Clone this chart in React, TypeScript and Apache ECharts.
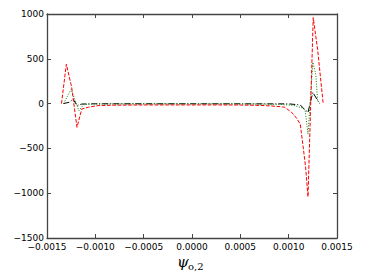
import React, { useEffect, useRef } from "react";
import * as echarts from "echarts";

const redX = [-0.00135, -0.0013, -0.001245, -0.00119, -0.00114, -0.00107, -0.00097, -0.0008, -0.0005, -0.0002, 0, 0.0003, 0.0005, 0.0007, 0.0008, 0.0009, 0.00096, 0.00103, 0.00108, 0.00112, 0.00115, 0.001175, 0.0012, 0.001254, 0.0013, 0.001357];
const redY = [0, 440, 185, -265, -60, -40, -22, -18, -15, -15, -15, -15, -16, -20, -25, -33, -41, -97, -160, -230, -485, -707, -1040, 960, 600, 0];

const greenX = [-0.00133, -0.00125, -0.00117, -0.00112, -0.001, -0.0005, 0, 0.0005, 0.0009, 0.00105, 0.00113, 0.00117, 0.0012, 0.00125, 0.00128, 0.0013, 0.00132];
const greenY = [0, 160, -80, -8, -5, -3, -3, -3, -8, -20, -45, -70, -340, 460, 330, 35, 10];

const blackX = [-0.00133, -0.00127, -0.00123, -0.00119, -0.00114, -0.001, 0, 0.001, 0.00112, 0.00116, 0.0012, 0.00125, 0.0013, 0.00132];
const blackY = [0, 15, 50, -22, -5, -2, -2, -3, -15, -60, -97, 126, 33, 0];

const xTicks = { min: -0.0015, max: 0.0015, interval: 0.0005 };
const yTicks = { min: -1500, max: 1000, interval: 500 };

const pairs = (xs: number[], ys: number[]) => xs.map((x, i) => [x, ys[i]]);

const fmtX = (v: number) => {
  const s = Math.abs(v).toFixed(4);
  return v < -1e-12 ? "\u2212" + s : s;
};
const fmtY = (v: number) => (v < 0 ? "\u2212" + Math.abs(v) : String(v));

export default function App() {
  const ref = useRef<HTMLDivElement>(null);
  useEffect(() => {
    if (!ref.current) return;
    const chart = echarts.init(ref.current, null, { renderer: "svg" });
    const axisLine = { show: true, onZero: false, lineStyle: { color: "#444", width: 1.3 } };
    const tick = { show: true, inside: true, length: 4, lineStyle: { color: "#444", width: 1 } };
    const label = { fontFamily: "DejaVu Sans", fontSize: 9, color: "#000" };
    chart.setOption({
      animation: false,
      backgroundColor: "#fff",
      grid: { left: 47, right: 37, top: 14, bottom: 42, containLabel: false },
      xAxis: [
        {
          type: "value", position: "bottom", ...xTicks,
          axisLine, axisTick: tick, splitLine: { show: false },
          axisLabel: { ...label, margin: 4, formatter: fmtX },
        },
        {
          type: "value", position: "top", ...xTicks,
          axisLine, axisTick: tick, splitLine: { show: false },
          axisLabel: { show: false },
        },
      ],
      yAxis: [
        {
          type: "value", position: "left", ...yTicks,
          axisLine, axisTick: tick, splitLine: { show: false },
          axisLabel: { ...label, margin: 3, formatter: fmtY },
        },
        {
          type: "value", position: "right", ...yTicks,
          axisLine, axisTick: tick, splitLine: { show: false },
          axisLabel: { show: false },
        },
      ],
      series: [
        {
          type: "line", data: pairs(blackX, blackY), showSymbol: false, symbol: "none",
          lineStyle: { color: "#000", width: 1, type: [6, 2, 1, 2] },
        },
        {
          type: "line", data: pairs(greenX, greenY), showSymbol: false, symbol: "none",
          lineStyle: { color: "#008000", width: 1, type: [1, 1.6] },
        },
        {
          type: "line", data: pairs(redX, redY), showSymbol: false, symbol: "none",
          lineStyle: { color: "#ff0000", width: 1, type: [3.7, 1.6] },
        },
      ],
      graphic: [
        {
          type: "text", left: 177, top: 254,
          style: { text: "\u03c8", font: "italic 15px 'DejaVu Serif'", fill: "#000" },
        },
        {
          type: "text", left: 188, top: 261,
          style: { text: "o,2", font: "10px 'DejaVu Serif'", fill: "#000" },
        },
      ],
    });
    return () => chart.dispose();
  }, []);
  return <div ref={ref} style={{ width: 374, height: 280, position: "absolute", left: 0, top: 0 }} />;
}
